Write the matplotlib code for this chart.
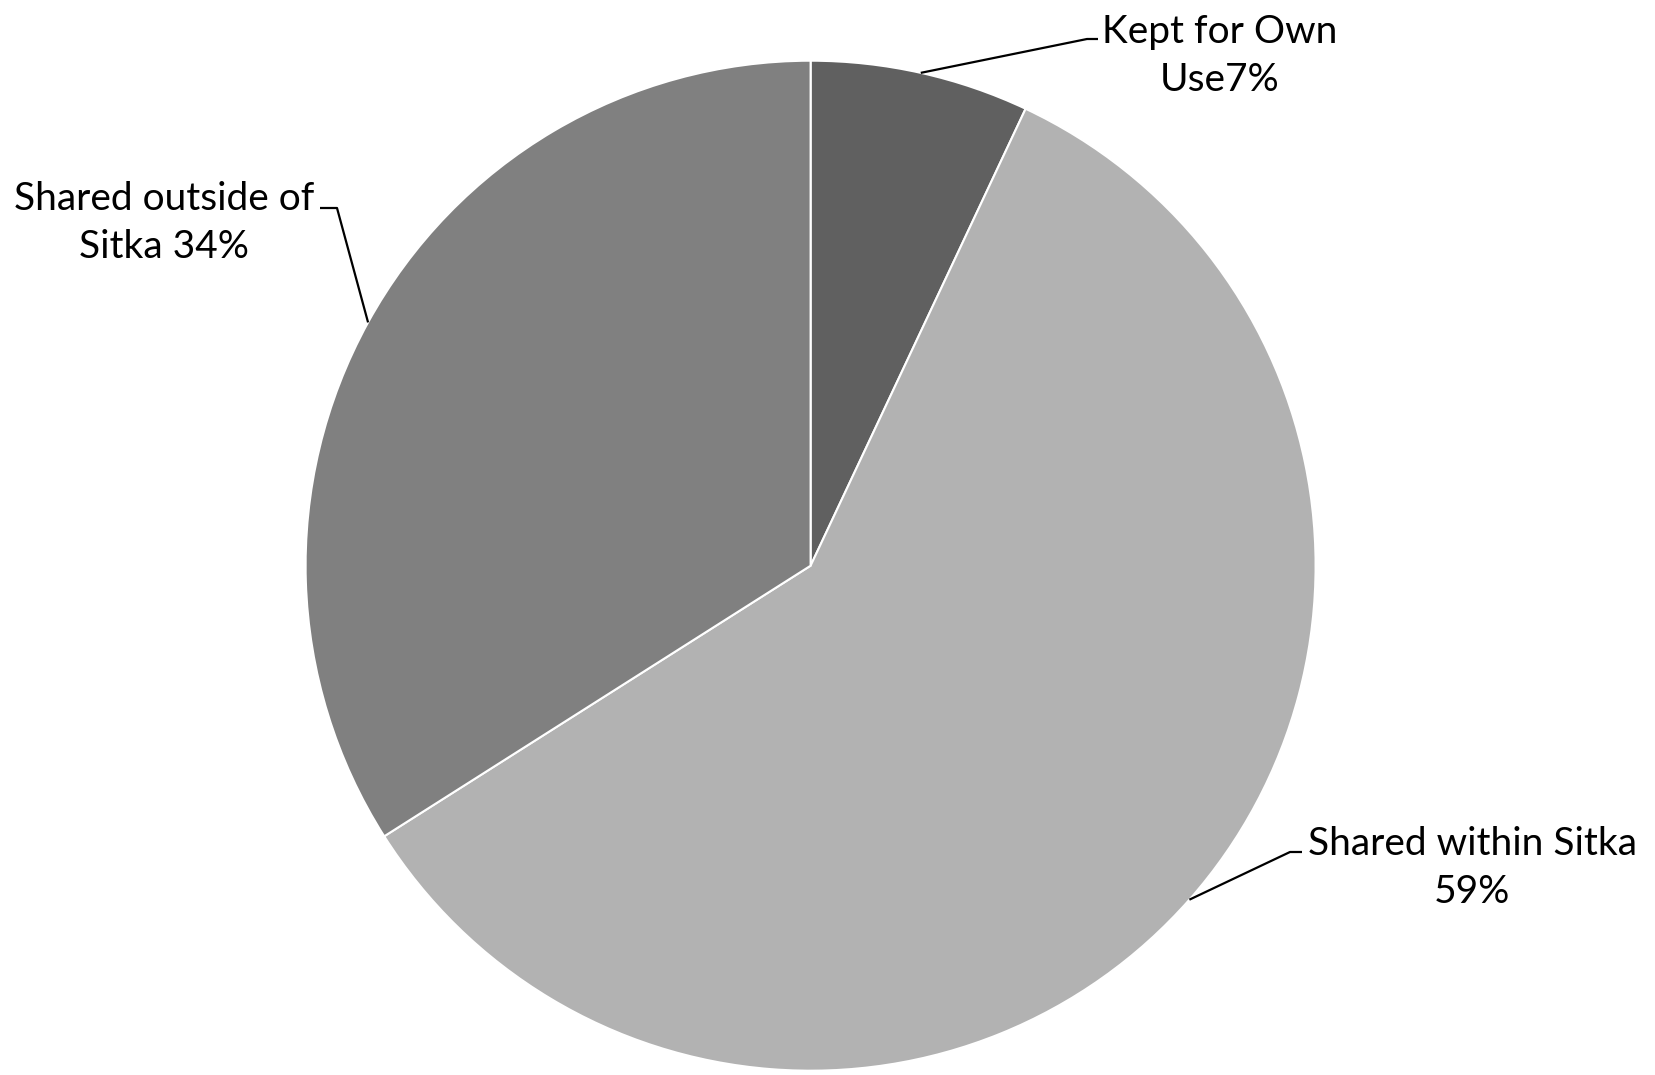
import numpy as np
import matplotlib
matplotlib.use("Agg")
import matplotlib.pyplot as plt

# data
labels = ["Kept for Own\nUse7%", "Shared within Sitka\n59%", "Shared outside of\nSitka 34%"]
shares = [7, 59, 34]
colors = ["#606060", "#b2b2b2", "#808080"]

W, H = 1655, 1075
CX, CY, R = 810.6, 565.7, 505.0   # pie centre / radius in pixels


def to_data(px, py):
    return (px - CX) / R, (CY - py) / R


fig = plt.figure(figsize=(W / 100, H / 100), dpi=100)
ax = fig.add_axes([(CX - R) / W, (H - CY - R) / H, 2 * R / W, 2 * R / H])

wedges, _ = ax.pie(shares, colors=colors, startangle=90, counterclock=False,
                   wedgeprops=dict(edgecolor="white", linewidth=1.5))
ax.set_xlim(-1, 1)
ax.set_ylim(-1, 1)
ax.axis("off")

# label layout: elbow of leader, end of leader, text centre (pixels)
layout = [
    ((1087, 39), (1098, 39), (1220, 56)),
    ((1290, 852), (1302, 852), (1472, 868)),
    ((337, 208), (320, 208), (164, 223)),
]

for w, lab, (elbow, end, tpos) in zip(wedges, labels, layout):
    ang = np.deg2rad((w.theta1 + w.theta2) / 2)
    ex, ey = np.cos(ang), np.sin(ang)
    bx, by = to_data(*elbow)
    hx, hy = to_data(*end)
    ax.plot([ex, bx, hx], [ey, by, hy], color="black", lw=1.6,
            solid_capstyle="butt", clip_on=False)
    tx, ty = to_data(*tpos)
    ax.text(tx, ty, lab, ha="center", va="center", multialignment="center",
            fontsize=28, family="Lato", linespacing=1.4, clip_on=False)

fig.savefig("out.png", dpi=100, facecolor="white")
